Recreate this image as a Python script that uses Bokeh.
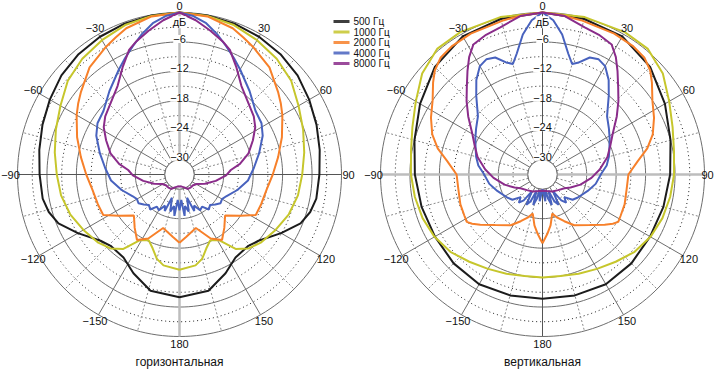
import numpy as np
from bokeh.plotting import figure
from bokeh.models import Range1d, ColumnDataSource, LabelSet
from bokeh.core.properties import value
from bokeh.embed import file_html
from bokeh.resources import INLINE

FONT = "Liberation Sans"

freq_labels = ["500 Гц", "1000 Гц", "2000 Гц", "4000 Гц", "8000 Гц"]
colors = ["#1c1c1c", "#c6c62c", "#f7802a", "#4862be", "#8a2c8a"]
panel_titles = ["горизонтальная", "вертикальная"]
angle_ticks = [-150, -120, -90, -60, -30, 0, 30, 60, 90, 120, 150, 180]
db_major = [0, -6, -12, -18, -24, -30]
db_minor = [-3, -9, -15, -21, -27]
db_labels = ["−6", "−12", "−18", "−24", "−30"]
db_label_vals = [-6, -12, -18, -24, -30]
unit_label = "дБ"
DB_MIN = -33.0

# ---- horizontal plane (angle 0..180, symmetric) ----
h500_ang = [0, 10, 20, 30, 40, 50, 60, 70, 80, 90, 100, 106, 112, 120, 130, 136, 146, 155, 166, 180]
h500_db = [0, -0.1, -0.3, -0.6, -1.0, -1.6, -2.5, -3.3, -4.0, -4.5, -4.7, -5.3, -6.4, -9.1, -12.0, -12.8, -12.6, -10.8, -8.6, -8.0]

h1000_ang = [0, 10, 20, 30, 40, 50, 60, 70, 80, 90, 100, 110, 120, 130, 137, 143, 149, 155, 160, 165, 170, 180]
h1000_db = [0, -0.2, -0.6, -1.4, -2.2, -3.3, -5.0, -6.2, -7.2, -8.0, -8.5, -9.3, -10.4, -11.4, -12.4, -14.0, -17.4, -18.2, -17.0, -15.2, -14.2, -13.6]

h2000_ang = [0, 10, 20, 25, 30, 40, 50, 55, 60, 70, 80, 90, 100, 110, 118, 124, 132, 140, 147, 154, 163, 174, 180]
h2000_db = [0, -0.3, -1.3, -2.2, -3.0, -4.5, -6.8, -7.8, -8.8, -10.8, -12.6, -14.0, -15.0, -15.3, -15.4, -18.0, -20.5, -18.8, -17.1, -18.5, -21.6, -20.2, -19.1]

h4000_ang = [0, 5, 10, 15, 20, 25, 30, 40, 50, 58, 65, 75, 85, 95, 105, 115, 120, 125, 130, 135, 140, 145, 150, 155, 158, 162, 166, 170, 173, 176, 180]
h4000_db = [0, -0.6, -1.7, -3.4, -5.2, -6.8, -8.3, -10.8, -12.8, -13.3, -14.3, -16.2, -17.8, -19.0, -20.8, -22.5, -23.0, -22.8, -23.5, -24.2, -23.7, -25.0, -24.6, -26.0, -25.0, -28.0, -25.2, -26.5, -24.5, -27.8, -25.7]

h8000_ang = [0, 6, 12, 18, 22, 28, 35, 44, 52, 58, 65, 73, 80, 85, 91, 100, 110, 119, 130, 140, 150, 160, 170, 180]
h8000_db = [0, -1.4, -3.0, -4.5, -5.6, -8.3, -11.0, -12.8, -13.8, -14.8, -16.5, -18.3, -20.5, -22.5, -23.5, -25.5, -27.5, -29.0, -29.5, -29.5, -29.6, -30.2, -30.5, -30.6]

# ---- vertical plane ----
v500_ang = [0, 15, 30, 45, 60, 75, 90, 105, 120, 135, 150, 165, 180]
v500_db = [0, -0.2, -0.5, -2.0, -4.2, -6.0, -7.0, -7.5, -7.7, -7.4, -7.2, -7.5, -7.7]

v1000_ang = [0, 15, 30, 40, 50, 60, 70, 80, 90, 100, 110, 120, 130, 140, 150, 160, 170, 180]
v1000_db = [0, 0.2, 0.5, 0.4, -1.0, -3.2, -4.8, -5.8, -6.2, -6.6, -7.0, -7.6, -8.5, -9.8, -10.8, -11.5, -12.0, -12.0]

v2000_ang = [0, 7, 14, 27, 35, 41, 46, 50, 56, 63, 70, 76, 82, 90, 100, 110, 118, 122, 125, 129, 137, 148, 155, 161, 166, 171, 175, 180]
v2000_db = [0, -0.3, -0.6, -0.8, -1.0, -1.4, -2.5, -3.9, -6.0, -7.5, -9.1, -11.0, -13.4, -15.5, -15.6, -15.2, -15.0, -14.8, -15.5, -16.7, -18.9, -20.8, -22.5, -23.7, -24.8, -22.5, -21.0, -19.0]

v4000_ang = [0, 4, 8, 12, 15, 18, 22, 26, 30, 35, 40, 48, 55, 62, 68, 75, 82, 89, 100, 110, 123, 130, 136, 140, 144, 148, 152, 156, 160, 163, 167, 170, 174, 180]
v4000_db = [0, -1.5, -4.2, -7.8, -9.7, -9.0, -7.3, -6.9, -7.5, -9.5, -12.0, -15.3, -16.5, -17.5, -18.3, -19.0, -19.8, -21.0, -22.0, -23.2, -24.4, -25.0, -26.6, -25.5, -26.5, -29.0, -26.0, -27.0, -29.5, -26.5, -28.0, -29.8, -27.5, -30.0]

v8000_ang = [0, 8, 16, 22, 28, 32, 36, 41, 46, 52, 60, 67, 75, 85, 94, 105, 115, 122, 135, 150, 165, 180]
v8000_db = [0, -0.4, -1.8, -2.3, -3.0, -4.8, -7.0, -9.5, -11.5, -13.8, -16.5, -18.0, -19.3, -21.3, -23.0, -25.0, -26.7, -27.7, -28.5, -29.0, -29.5, -29.7]

panels = [
    [(h500_ang, h500_db), (h1000_ang, h1000_db), (h2000_ang, h2000_db), (h4000_ang, h4000_db), (h8000_ang, h8000_db)],
    [(v500_ang, v500_db), (v1000_ang, v1000_db), (v2000_ang, v2000_db), (v4000_ang, v4000_db), (v8000_ang, v8000_db)],
]

# ---- geometry (screen pixels) ----
W, H = 716, 369
CX = [179.0, 542.0]
CY = 174.0
R_OUT = 162.0
K = R_OUT / (0 - DB_MIN)
R_LAB = 169.0
GRID = "#6e6e6e"


def pol_r(cx, ang, r):
    t = np.radians(np.asarray(ang, float))
    r = np.asarray(r, float)
    return cx + r * np.sin(t), CY - r * np.cos(t)


def pol(cx, ang, db):
    return pol_r(cx, ang, (np.asarray(db, float) - DB_MIN) * K)


def mirror(ang, db):
    a = np.asarray(ang, float)
    d = np.asarray(db, float)
    return np.concatenate([-a[::-1], a[1:]]), np.concatenate([d[::-1], d[1:]])


p = figure(width=W, height=H, x_range=Range1d(0, W), y_range=Range1d(H, 0),
           output_backend="svg", toolbar_location=None, min_border=0)
p.axis.visible = False
p.grid.visible = False
p.outline_line_color = None
p.background_fill_color = "white"
p.border_fill_color = "white"

circ = np.arange(0, 361, 2)
r_hole = (db_major[-1] - DB_MIN) * K

for i, cx in enumerate(CX):
    # minor rings (dotted)
    xs, ys = [], []
    for d in db_minor:
        x, y = pol(cx, circ, np.full(circ.shape, d))
        xs.append(x); ys.append(y)
    p.multi_line(xs, ys, line_color="#222222", line_width=1, line_dash="1 3")
    # minor spokes
    for a in range(15, 360, 30):
        x0, y0 = pol_r(cx, a, r_hole)
        x1, y1 = pol_r(cx, a, R_OUT)
        p.segment(x0=[x0], y0=[y0], x1=[x1], y1=[y1], line_color="#8c8c8c", line_width=1, line_dash="2 2")
    # major rings
    xs, ys = [], []
    for d in db_major:
        x, y = pol(cx, circ, np.full(circ.shape, d))
        xs.append(x); ys.append(y)
    p.multi_line(xs, ys, line_color=GRID, line_width=1)
    # major spokes
    thick = (0, 180) if i == 0 else (90, 270)
    for a in range(0, 360, 30):
        if a in thick:
            continue
        x0, y0 = pol_r(cx, a, r_hole)
        x1, y1 = pol_r(cx, a, R_OUT)
        col = "#555555" if a in (0, 90, 180, 270) else GRID
        p.segment(x0=[x0], y0=[y0], x1=[x1], y1=[y1], line_color=col, line_width=1)
    for a in thick:
        x0, y0 = pol_r(cx, a, r_hole)
        x1, y1 = pol_r(cx, a, R_OUT)
        p.segment(x0=[x0], y0=[y0], x1=[x1], y1=[y1], line_color="#bdbdbd", line_width=2.5)
    # hole
    p.circle(x=[cx], y=[CY], radius=r_hole, fill_color="white", line_color=GRID, line_width=1)

    # curves
    for (ang, db), col in zip(panels[i], colors):
        a, d = mirror(ang, db)
        x, y = pol(cx, a, d)
        p.line(x, y, line_color=col, line_width=2)

    # angle labels
    ax, ay = pol_r(cx, angle_ticks, np.full(len(angle_ticks), R_LAB))
    ax = np.clip(ax, 10, 707)
    atxt = [str(a) if a >= 0 else "−" + str(-a) for a in angle_ticks]
    src = ColumnDataSource(dict(x=ax, y=ay, t=atxt))
    p.add_layout(LabelSet(x="x", y="y", text="t", source=src, text_align="center",
                          text_baseline="middle", text_font=value(FONT), text_font_size="11px",
                          text_color="#111111"))

    # dB labels
    ly = CY - (np.asarray(db_label_vals, float) - DB_MIN) * K
    uy = CY - (db_minor[0] - DB_MIN) * K
    src = ColumnDataSource(dict(x=[cx] * (len(db_labels) + 1), y=list(ly) + [uy],
                                t=db_labels + [unit_label]))
    p.add_layout(LabelSet(x="x", y="y", text="t", source=src, text_align="center",
                          text_baseline="bottom", text_font=value(FONT), text_font_size="11px",
                          text_color="#111111", y_offset=-1,
                          background_fill_color="white"))

    # panel title
    p.add_layout(LabelSet(x="x", y="y", text="t",
                          source=ColumnDataSource(dict(x=[cx], y=[361], t=[panel_titles[i]])),
                          text_align="center", text_baseline="middle", text_font=value(FONT),
                          text_font_size="12px", text_color="#111111"))

# legend
ly0 = [21 + 10.5 * k for k in range(len(freq_labels))]
p.segment(x0=[333] * 5, y0=ly0, x1=[349] * 5, y1=ly0, line_color=colors, line_width=3, line_alpha=0.85)
p.add_layout(LabelSet(x="x", y="y", text="t",
                      source=ColumnDataSource(dict(x=[353] * 5, y=ly0, t=freq_labels)),
                      text_align="left", text_baseline="middle", text_font=value(FONT),
                      text_font_size="10px", text_color="#111111"))

open("out.html", "w").write(file_html(p, INLINE))
